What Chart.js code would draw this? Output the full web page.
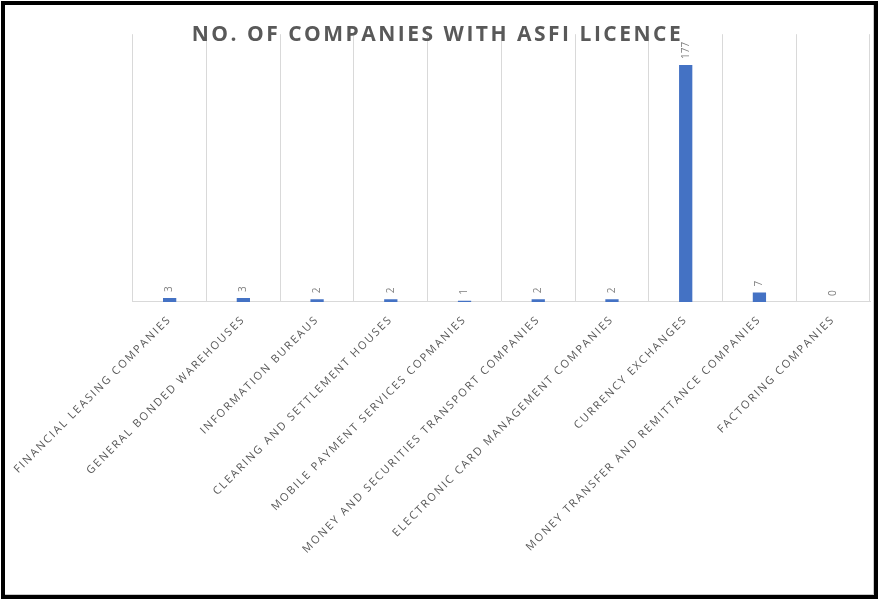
<!DOCTYPE html>
<html lang="en">
<head>
<meta charset="UTF-8">
<title>No. of companies with ASFI licence</title>
<script src="https://cdn.jsdelivr.net/npm/chart.js"></script>
<style>
    body { margin: 0; background: #fff; }
    .frame {
        position: absolute;
        left: 1px;
        top: 1px;
        width: 877px;
        height: 598px;
        box-sizing: border-box;
        border: 4px solid #000;
    }
    .chart-box {
        position: relative;
        width: 869px;
        height: 590px;
        box-shadow: inset -1px -1px 0 #c9c9c9;
    }
</style>
</head>
<body>
<div class="frame">
    <div class="chart-box"><canvas id="asfiChart"></canvas></div>
</div>
<script>
    const categories = [
        'FINANCIAL LEASING COMPANIES',
        'GENERAL BONDED WAREHOUSES',
        'INFORMATION BUREAUS',
        'CLEARING AND SETTLEMENT HOUSES',
        'MOBILE PAYMENT SERVICES COPMANIES',
        'MONEY AND SECURITIES TRANSPORT COMPANIES',
        'ELECTRONIC CARD MANAGEMENT COMPANIES',
        'CURRENCY EXCHANGES',
        'MONEY TRANSFER AND REMITTANCE COMPANIES',
        'FACTORING COMPANIES'
    ];
    const companies = [3, 3, 2, 2, 1, 2, 2, 177, 7, 0];
    const yMin = 0;
    const yMax = 200;

    // canvas letterSpacing: wide caps for axis and title, none for data labels
    const spacingAndLabels = {
        id: 'spacingAndLabels',
        beforeLayout(chart) {
            chart.ctx.letterSpacing = '1.85px';
        },
        beforeDraw(chart) {
            chart.ctx.letterSpacing = '2.5px';
        },
        afterDatasetsDraw(chart) {
            const ctx = chart.ctx;
            const meta = chart.getDatasetMeta(0);
            ctx.save();
            ctx.letterSpacing = '0px';
            ctx.font = '10px "Open Sans"';
            ctx.fillStyle = '#7f7f7f';
            ctx.textAlign = 'left';
            ctx.textBaseline = 'middle';
            meta.data.forEach((bar, i) => {
                ctx.save();
                ctx.translate(bar.x, bar.y - 6);
                ctx.rotate(-Math.PI / 2);
                ctx.fillText(String(companies[i]), 0, 0);
                ctx.restore();
            });
            ctx.restore();
            ctx.letterSpacing = '1.85px';
        }
    };

    const ctx = document.getElementById('asfiChart').getContext('2d');
    const asfiChart = new Chart(ctx, {
        type: 'bar',
        data: {
            labels: categories,
            datasets: [{
                label: 'No. of companies',
                data: companies,
                backgroundColor: '#4472c4',
                borderWidth: 0,
                categoryPercentage: 1,
                barPercentage: 0.18
            }]
        },
        options: {
            responsive: true,
            maintainAspectRatio: false,
            animation: false,
            layout: {
                padding: { left: 0, right: 4, top: 0, bottom: 28 }
            },
            plugins: {
                legend: { display: false },
                tooltip: { enabled: false },
                title: {
                    display: true,
                    text: 'NO. OF COMPANIES WITH ASFI LICENCE',
                    color: '#595959',
                    font: { family: 'Open Sans', size: 21, weight: 'bold' },
                    padding: { top: 17, bottom: -13 }
                }
            },
            scales: {
                x: {
                    grid: { color: '#d9d9d9', drawTicks: false, offset: true },
                    border: { color: '#d9d9d9' },
                    ticks: {
                        z: 1,
                        color: '#595959',
                        font: { family: 'Open Sans', size: 11 },
                        minRotation: 45,
                        maxRotation: 45,
                        autoSkip: false,
                        padding: 11
                    }
                },
                y: {
                    display: false,
                    min: yMin,
                    max: yMax
                }
            }
        },
        plugins: [spacingAndLabels]
    });
</script>
</body>
</html>
